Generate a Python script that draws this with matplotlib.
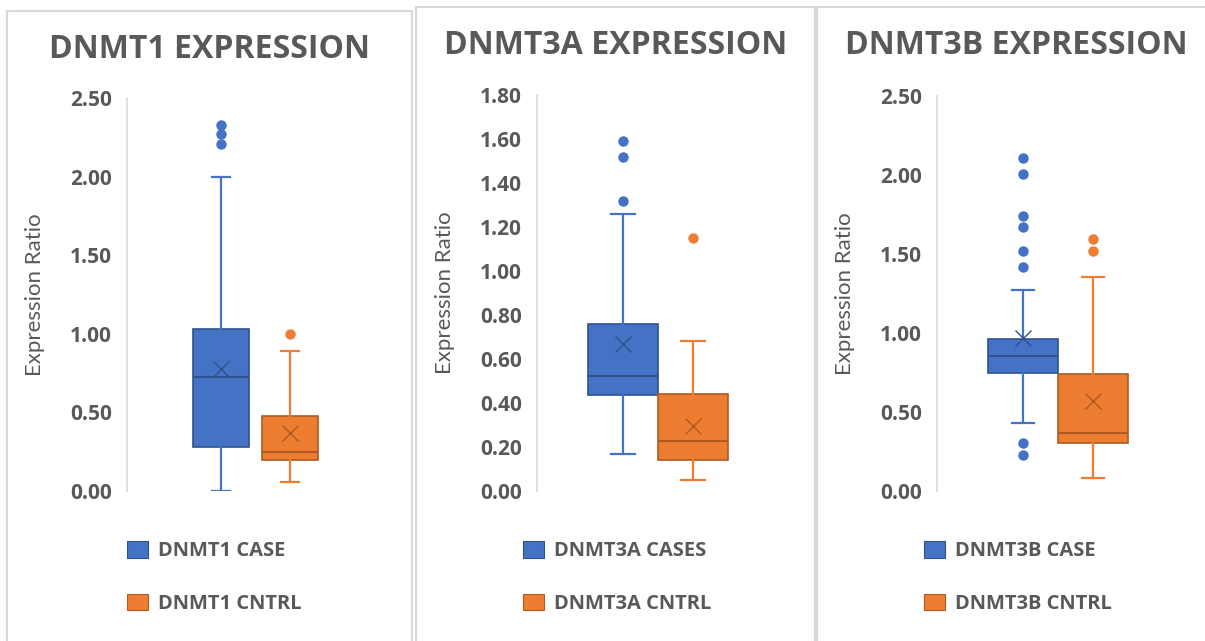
import matplotlib.pyplot as plt
from matplotlib.patches import Patch, Rectangle

plt.rcParams['font.family'] = ['Open Sans', 'DejaVu Sans']

genes = ["DNMT1", "DNMT3A", "DNMT3B"]
titles = ["DNMT1 EXPRESSION", "DNMT3A EXPRESSION", "DNMT3B EXPRESSION"]
case_labels = ["DNMT1 CASE", "DNMT3A CASES", "DNMT3B CASE"]
ctrl_labels = ["DNMT1 CNTRL", "DNMT3A CNTRL", "DNMT3B CNTRL"]

# box statistics
case_whislo = [0.00, 0.17, 0.43]
case_q1 = [0.28, 0.435, 0.745]
case_med = [0.725, 0.525, 0.855]
case_mean = [0.775, 0.67, 0.97]
case_q3 = [1.03, 0.76, 0.965]
case_whishi = [2.00, 1.26, 1.27]
case_fliers = [[2.21, 2.27, 2.33],
               [1.32, 1.52, 1.59],
               [0.23, 0.305, 1.42, 1.52, 1.67, 1.74, 2.005, 2.11]]

ctrl_whislo = [0.055, 0.052, 0.085]
ctrl_q1 = [0.195, 0.139, 0.305]
ctrl_med = [0.245, 0.226, 0.364]
ctrl_mean = [0.37, 0.297, 0.57]
ctrl_q3 = [0.48, 0.443, 0.741]
ctrl_whishi = [0.89, 0.68, 1.356]
ctrl_fliers = [[1.00], [1.15], [1.52, 1.595]]

y_max = [2.5, 1.8, 2.5]
y_step = [0.5, 0.2, 0.5]

BLUE = "#4472C4"
BLUE_D = "#2F528F"
ORANGE = "#ED7D31"
ORANGE_D = "#AE5A21"
GREY = "#595959"
BORDER = "#D9D9D9"

W, H = 1205, 641
fig = plt.figure(figsize=(W / 100, H / 100), dpi=100)


def px(x, y):
    return x / W, 1 - y / H


# layout in pixels: frame left/right/top, axis left/right/top
frames = [(7, 412, 11), (416, 815, 7), (817, 1215, 7)]
axes_px = [(127, 384, 98), (537, 779, 95), (937, 1179, 96)]
y_bottom = 491
title_y = [49, 46, 46]
box_w = [0.81, 1.0, 1.0]
cap_w = [0.25, 0.34, 0.31]
margin = [1.36, 1.23, 1.23]
legend_x = [127, 523, 924]

for i in range(3):
    fl, fr, ft = frames[i]
    fig.add_artist(Rectangle(px(fl, H + 5), (fr - fl) / W, (H + 5 - ft) / H,
                             transform=fig.transFigure, fill=False,
                             edgecolor=BORDER, lw=1.5))

    al, ar, at = axes_px[i]
    x0, y0 = px(al, y_bottom)
    ax = fig.add_axes([x0, y0, (ar - al) / W, (y_bottom - at) / H])

    stats = [
        dict(whislo=case_whislo[i], q1=case_q1[i], med=case_med[i],
             mean=case_mean[i], q3=case_q3[i], whishi=case_whishi[i],
             fliers=case_fliers[i]),
        dict(whislo=ctrl_whislo[i], q1=ctrl_q1[i], med=ctrl_med[i],
             mean=ctrl_mean[i], q3=ctrl_q3[i], whishi=ctrl_whishi[i],
             fliers=ctrl_fliers[i]),
    ]
    for j, (st, c, cd) in enumerate([(stats[0], BLUE, BLUE_D),
                                     (stats[1], ORANGE, ORANGE_D)]):
        ax.bxp([st], positions=[j + 1], widths=box_w[i], capwidths=[cap_w[i]],
               showmeans=True, patch_artist=True,
               boxprops=dict(facecolor=c, edgecolor=cd, lw=1.2),
               whiskerprops=dict(color=c, lw=1.6),
               capprops=dict(color=c, lw=1.6),
               medianprops=dict(color=cd, lw=1.5),
               meanprops=dict(marker='x', markersize=12, markeredgecolor=cd,
                              markeredgewidth=1.0),
               flierprops=dict(marker='o', markersize=6.5, markerfacecolor=c,
                               markeredgecolor=c))

    ax.set_xlim(1 - margin[i], 2 + margin[i])
    ax.set_ylim(0, y_max[i])
    n = int(round(y_max[i] / y_step[i]))
    ticks = [k * y_step[i] for k in range(n + 1)]
    ax.set_yticks(ticks)
    ax.set_yticklabels([f"{t:.2f}" for t in ticks])
    ax.set_xticks([])
    for s in ["top", "right", "bottom"]:
        ax.spines[s].set_visible(False)
    ax.spines["left"].set_color(BORDER)
    ax.spines["left"].set_linewidth(1.2)
    ax.tick_params(axis='y', length=0, pad=11, labelsize=15,
                   labelcolor=GREY)
    for lab in ax.get_yticklabels():
        lab.set_fontweight('bold')
    ax.patch.set_alpha(0)

    ax.text(-92 / (ar - al), 0.5, "Expression Ratio", transform=ax.transAxes,
            rotation=90, ha='center', va='center', fontsize=16, color=GREY,
            family=['Lato', 'DejaVu Sans'])

    fig.text((fl + min(fr, W + 14)) / 2 / W, 1 - title_y[i] / H, titles[i],
             ha='center', va='center', fontsize=23, fontweight='bold',
             color=GREY)

    handles = [Patch(facecolor=BLUE, edgecolor=BLUE_D, lw=0.8),
               Patch(facecolor=ORANGE, edgecolor=ORANGE_D, lw=0.8)]
    leg = ax.legend(handles, [case_labels[i], ctrl_labels[i]],
                    loc='upper left', bbox_to_anchor=px(legend_x[i], 541),
                    bbox_transform=fig.transFigure, frameon=False,
                    fontsize=14.5, handlelength=1.05, handleheight=0.9,
                    handletextpad=0.5, labelspacing=1.6, borderpad=0,
                    borderaxespad=0)
    for t in leg.get_texts():
        t.set_color(GREY)
        t.set_fontweight('bold')

fig.savefig("out.png", dpi=100)
